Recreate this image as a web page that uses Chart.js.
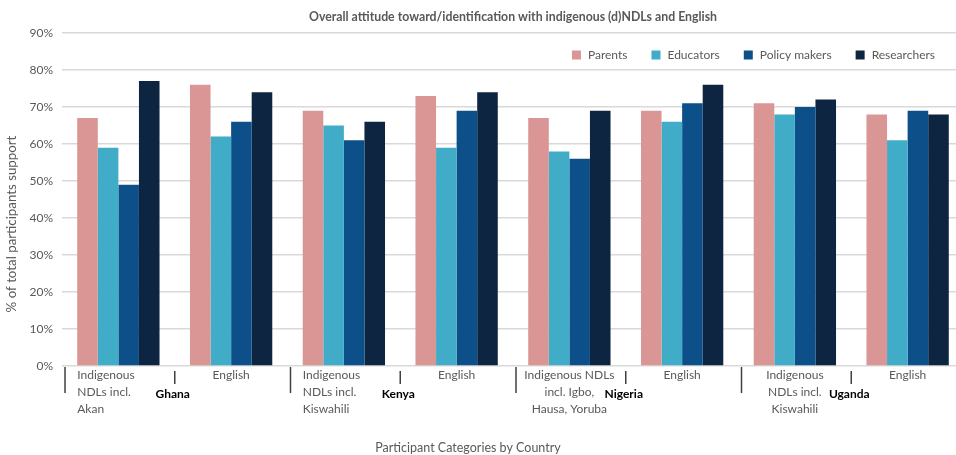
<!DOCTYPE html>
<html>
<head>
<meta charset="utf-8">
<script src="https://cdn.jsdelivr.net/npm/chart.js@4/dist/chart.umd.min.js"></script>
<style>
  html, body { margin: 0; padding: 0; background: #fff; overflow: hidden; }
  #wrap { width: 966px; height: 455px; }
</style>
</head>
<body>
<div id="wrap"><canvas id="c" width="966" height="455"></canvas></div>
<script>
// Survey categories (language of instruction) and the country each pair belongs to
const categories = [
  ["Indigenous", "NDLs incl.", "Akan"],
  ["English"],
  ["Indigenous", "NDLs incl.", "Kiswahili"],
  ["English"],
  ["Indigenous NDLs", "incl. Igbo,", "Hausa, Yoruba"],
  ["English"],
  ["Indigenous", "NDLs incl.", "Kiswahili"],
  ["English"]
];
const countries = ["Ghana", "Kenya", "Nigeria", "Uganda"];

// Share of participants in support (%)
const parents     = [67, 76, 69, 73, 67, 69, 71, 68];
const educators   = [59, 62, 65, 59, 58, 66, 68, 61];
const policyMakers = [49, 66, 61, 69, 56, 71, 70, 69];
const researchers = [77, 74, 66, 74, 69, 76, 72, 68];

const yTicks = [0, 10, 20, 30, 40, 50, 60, 70, 80, 90];

const FONT = "Lato, 'Open Sans', sans-serif";
const GREY = "#595959";

const datasets = [
  { label: "Parents",       data: parents,      backgroundColor: "#D99694" },
  { label: "Educators",     data: educators,    backgroundColor: "#41ACC8" },
  { label: "Policy makers", data: policyMakers, backgroundColor: "#0C4F89" },
  { label: "Researchers",   data: researchers,  backgroundColor: "#0E2541" }
];

// Title, legend, category / country labels and axis titles
const decorations = {
  id: "decorations",
  afterDraw(chart) {
    const ctx = chart.ctx;
    const area = chart.chartArea;
    const x = chart.scales.x;
    const step = x.getPixelForValue(1) - x.getPixelForValue(0);
    ctx.save();

    // Title
    ctx.fillStyle = GREY;
    ctx.font = "bold 12.3px " + FONT;
    ctx.textAlign = "center";
    ctx.textBaseline = "middle";
    ctx.fillText("Overall attitude toward/identification with indigenous (d)NDLs and English",
      (area.left + area.right) / 2, 17);

    // Legend, laid out from the right
    ctx.font = "12px " + FONT;
    ctx.textBaseline = "middle";
    ctx.textAlign = "left";
    let right = 935;
    const legendY = 55;
    for (let i = datasets.length - 1; i >= 0; i--) {
      const d = datasets[i];
      const w = ctx.measureText(d.label).width;
      const tx = right - w;
      ctx.fillStyle = GREY;
      ctx.fillText(d.label, tx, legendY);
      ctx.fillStyle = d.backgroundColor;
      ctx.fillRect(tx - 16, legendY - 4.5, 9, 9);
      right = tx - 16 - 24;
    }

    // Category labels
    ctx.fillStyle = GREY;
    ctx.font = "12px " + FONT;
    ctx.textBaseline = "top";
    const barGroup = step * 0.73;
    categories.forEach((lines, i) => {
      const cx = x.getPixelForValue(i);
      const leftAligned = (i === 0 || i === 2);
      ctx.textAlign = leftAligned ? "left" : "center";
      const tx = leftAligned ? cx - barGroup / 2 : cx;
      lines.forEach((ln, k) => ctx.fillText(ln, tx, 369 + k * 17));
    });

    // Country labels and separators
    ctx.strokeStyle = "#404040";
    ctx.lineWidth = 1.5;
    countries.forEach((name, g) => {
      const start = x.getPixelForValue(2 * g) - step / 2;
      const mid = x.getPixelForValue(2 * g) + step / 2;
      ctx.beginPath();
      ctx.moveTo(start + 3, 367);
      ctx.lineTo(start + 3, 393);
      ctx.stroke();
      ctx.beginPath();
      ctx.moveTo(mid, 371);
      ctx.lineTo(mid, 384);
      ctx.stroke();
      ctx.fillStyle = "#000";
      ctx.font = "bold 12px " + FONT;
      ctx.textAlign = "center";
      ctx.textBaseline = "middle";
      ctx.fillText(name, mid - 2, 394);
    });

    // Axis titles
    ctx.fillStyle = GREY;
    ctx.font = "12.5px " + FONT;
    ctx.textAlign = "center";
    ctx.textBaseline = "middle";
    ctx.fillText("Participant Categories by Country", 468, 448);
    ctx.font = "13.3px " + FONT;
    ctx.translate(12, 224);
    ctx.rotate(-Math.PI / 2);
    ctx.fillText("% of total participants support", 0, 0);
    ctx.restore();
  }
};

new Chart(document.getElementById("c"), {
  type: "bar",
  data: { labels: categories.map(c => c.join(" ")), datasets },
  plugins: [decorations],
  options: {
    responsive: false,
    animation: false,
    layout: { padding: { top: 33, right: 2, left: 0, bottom: 0 } },
    datasets: { bar: { categoryPercentage: 0.73, barPercentage: 1.0, borderWidth: 0 } },
    plugins: {
      legend: { display: false },
      title: { display: false },
      tooltip: { enabled: false }
    },
    scales: {
      x: {
        grid: { display: false },
        border: { display: false },
        ticks: { display: false },
        afterFit(scale) { scale.height = 89; }
      },
      y: {
        min: 0,
        max: 90,
        afterBuildTicks(scale) { scale.ticks = yTicks.map(v => ({ value: v })); },
        afterFit(scale) { scale.width = 62; },
        border: { display: false },
        grid: { color: "#d9d9d9", lineWidth: 1.5, drawTicks: false },
        ticks: {
          padding: 9,
          color: GREY,
          font: { family: FONT, size: 12 },
          callback: v => v + "%"
        }
      }
    }
  }
});
</script>
</body>
</html>
